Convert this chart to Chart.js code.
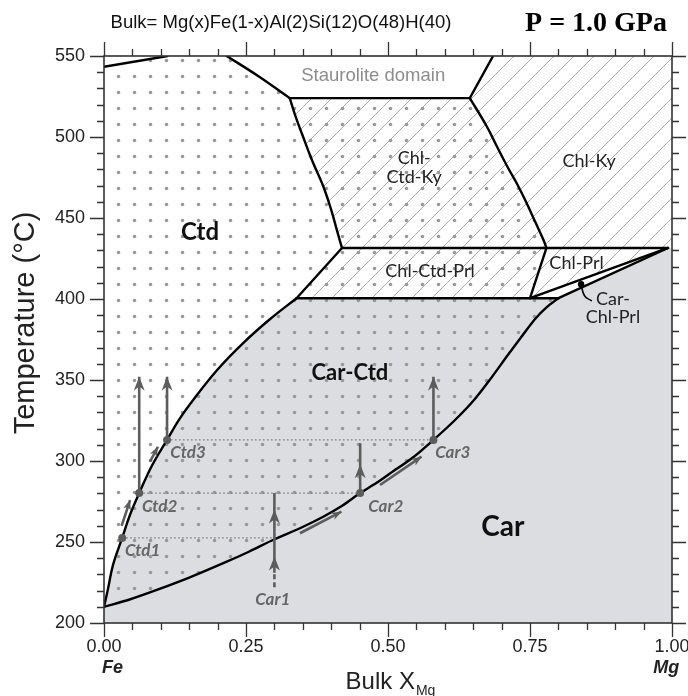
<!DOCTYPE html>
<html>
<head>
<meta charset="utf-8">
<script src="https://cdn.jsdelivr.net/npm/chart.js@4.4.1/dist/chart.umd.min.js"></script>
<style>
  html, body { margin: 0; padding: 0; background: #fff; }
</style>
</head>
<body>
<canvas id="myChart" width="688" height="696"></canvas>
<script>
'use strict';

// axes
let xMajorTicks = [0, 0.25, 0.5, 0.75, 1];
let xTickLabels = ['0.00', '0.25', '0.50', '0.75', '1.00'];
let yMajorTicks = [200, 250, 300, 350, 400, 450, 500, 550];
let yTickLabels = ['200', '250', '300', '350', '400', '450', '500', '550'];

// phase boundaries (bulk XMg, T in C)
let topLeft = [[0, 543.4], [0.112, 550]];
let stauLeft = [[0.216, 550], [0.272, 537.5], [0.327, 524]];
let stauBottom = [[0.327, 524], [0.644, 524]];
let stauRight = [[0.644, 524], [0.685, 550]];
let ctdKy = [[0.327, 524], [0.338, 512], [0.350, 500.6], [0.367, 485], [0.386, 469.6], [0.400, 455], [0.412, 440], [0.419, 431.5]];
let kyRight = [[0.644, 524], [0.674, 506.5], [0.692, 494], [0.710, 481.8], [0.728, 470.5], [0.744, 459.2], [0.760, 447], [0.773, 437], [0.779, 431.5]];
let chlLine = [[0.419, 431.5], [0.993, 431.5]];
let prlLeft = [[0.419, 431.5], [0.339, 400.5]];
let prlBottom = [[0.339, 400.5], [0.80, 400.5]];
let prlMid = [[0.779, 431.5], [0.75, 400.5]];
let wedgeUpper = [[0.75, 400.5], [0.993, 431.5]];
let wedgeLower = [[0.80, 400.5], [0.993, 431.5]];
let ctdCurve = [[0, 210], [0.007, 221], [0.016, 236], [0.032, 252.5], [0.046, 267], [0.062, 280.2], [0.085, 297.5], [0.111, 313],
  [0.133, 326], [0.157, 337.7], [0.200, 356.5], [0.245, 372.8], [0.292, 387.5], [0.339, 400.5]];
let carCurve = [[0, 210], [0.045, 214.5], [0.093, 220.4], [0.15, 228], [0.21, 236.9], [0.255, 244], [0.30, 251.7], [0.345, 258.5], [0.386, 265.6],
  [0.420, 272.5], [0.451, 280.2], [0.480, 286.5], [0.504, 292.4], [0.545, 302.5], [0.580, 313], [0.618, 325.3], [0.653, 338.3],
  [0.683, 351.9], [0.711, 365.4], [0.736, 377.2], [0.759, 387.7], [0.780, 395.1], [0.80, 400.5]];

// path marks
let ctdPoints = [[0.032, 252.5], [0.062, 280.2], [0.111, 313]];
let carPoints = [[0.451, 280.2], [0.580, 313]];
let isoLines = [
  [[0.032, 252.5], [0.30, 252.5]],
  [[0.062, 280.2], [0.451, 280.2]],
  [[0.111, 313], [0.580, 313]]
];
let upArrows = [
  [[0.062, 280.2], [0.062, 352]],
  [[0.111, 313], [0.111, 352]],
  [[0.580, 313], [0.580, 352]],
  [[0.451, 280.2], [0.451, 311]],
  [[0.30, 231], [0.30, 280.2]]
];
let car1Dash = [[0.30, 222], [0.30, 231]];
let midHeads = [
  [[0.30, 232], [0.30, 241]],
  [[0.30, 262], [0.30, 270]],
  [[0.451, 288], [0.451, 298]]
];
let sideArrows = [
  [[0.031, 259.9], [0.046, 275.9]],
  [[0.081, 299.6], [0.095, 308.8]],
  [[0.345, 255.4], [0.418, 268.7]],
  [[0.486, 285.2], [0.559, 302.7]]
];
let wedgeDot = [[0.840, 409.1]];
let wedgeLeader = [[0.840, 409.1], [0.846, 402], [0.858, 399]];

// region labels
let fieldLabels = [
  {text: 'Staurolite domain', x: 0.474, y: 537.7, font: '18.5px "Liberation Sans"', color: '#8c8c8c'},
  {text: 'Ctd', x: 0.169, y: 441.5, font: 'bold 24px Lato', color: '#111'},
  {text: 'Car-Ctd', x: 0.433, y: 354.5, font: 'bold 22px Lato', color: '#111'},
  {text: 'Car', x: 0.702, y: 259.5, font: 'bold 28px Lato', color: '#111'},
  {text: 'Chl-', x: 0.546, y: 486.9, font: '18px Lato', color: '#222'},
  {text: 'Ctd-Ky', x: 0.546, y: 475.5, font: '18px Lato', color: '#222'},
  {text: 'Chl-Ky', x: 0.854, y: 484.8, font: '18px Lato', color: '#222'},
  {text: 'Chl-Ctd-Prl', x: 0.574, y: 416.9, font: '18px Lato', color: '#222'},
  {text: 'Chl-Prl', x: 0.832, y: 422.4, font: '18px Lato', color: '#222'},
  {text: 'Car-', x: 0.896, y: 400, font: '18px Lato', color: '#222'},
  {text: 'Chl-Prl', x: 0.896, y: 388.5, font: '18px Lato', color: '#222'}
];
let pathLabels = [
  {text: 'Ctd1', x: 0.068, y: 245},
  {text: 'Ctd2', x: 0.098, y: 271.8},
  {text: 'Ctd3', x: 0.148, y: 305.1},
  {text: 'Car1', x: 0.297, y: 214.8},
  {text: 'Car2', x: 0.496, y: 272.2},
  {text: 'Car3', x: 0.614, y: 305.1}
];

let titleText = 'Bulk= Mg(x)Fe(1-x)Al(2)Si(12)O(48)H(40)';
let pressureText = 'P = 1.0 GPa';

function pts(arr) {
  return arr.map(function (p) { return {x: p[0], y: p[1]}; });
}

function rev(arr) {
  return arr.slice().reverse();
}

let canvas = document.getElementById('myChart');
let ctx = canvas.getContext('2d');

function dotPattern() {
  let c = document.createElement('canvas');
  c.width = 16;
  c.height = 16;
  let g = c.getContext('2d');
  g.fillStyle = '#989898';
  g.beginPath();
  g.arc(6.5, 12.5, 1.8, 0, Math.PI * 2);
  g.fill();
  return ctx.createPattern(c, 'repeat');
}

function hatchPattern() {
  let c = document.createElement('canvas');
  c.width = 20;
  c.height = 20;
  let g = c.getContext('2d');
  g.strokeStyle = '#939393';
  g.lineWidth = 0.8;
  g.beginPath();
  g.moveTo(-2, 12); g.lineTo(12, -2);
  g.moveTo(8, 22); g.lineTo(22, 8);
  g.stroke();
  return ctx.createPattern(c, 'repeat');
}

// regions built from the boundaries
let grayArea = [].concat(ctdCurve, prlBottom.slice(1), wedgeLower.slice(1), [[1, 431.5], [1, 200], [0, 200], [0, 210]]);
let hatchArea = [].concat(stauBottom, stauRight.slice(1), [[1, 550], [1, 431.5]], rev(wedgeUpper),
  [[0.339, 400.5]], [[0.419, 431.5]], rev(ctdKy).slice(1));
let dotArea = [].concat(carCurve, [[0.75, 400.5]], rev(prlMid).slice(1), rev(kyRight).slice(1),
  [[0.327, 524]], rev(stauLeft).slice(1), rev(topLeft), [[0, 210]]);

function areaSet(arr, color, order) {
  return {
    data: pts(arr), borderWidth: 0, pointRadius: 0, fill: 'shape',
    backgroundColor: color, order: order, tension: 0
  };
}

function lineSet(arr, color, width, order, extra) {
  let ds = {
    data: pts(arr), borderColor: color, borderWidth: width, pointRadius: 0,
    fill: false, order: order, tension: 0, borderCapStyle: 'round', borderJoinStyle: 'round'
  };
  return Object.assign(ds, extra || {});
}

let datasets = [
  areaSet(grayArea, '#dcdde0', 100),
  areaSet(hatchArea, hatchPattern(), 99),
  areaSet(dotArea, dotPattern(), 98)
];

[topLeft, stauBottom, stauRight, chlLine, prlLeft, prlBottom, prlMid, wedgeUpper, wedgeLower].forEach(function (b) {
  datasets.push(lineSet(b, '#000', 2.4, 50));
});
[stauLeft, ctdKy, kyRight, ctdCurve].forEach(function (b) {
  datasets.push(lineSet(b, '#000', 2.4, 50, {tension: 0.4}));
});
datasets.push(lineSet(carCurve, '#000', 2.4, 50, {tension: 0.3}));

isoLines.forEach(function (l) {
  datasets.push(lineSet(l, '#777', 1.3, 40, {borderDash: [1.5, 2.5], borderCapStyle: 'butt'}));
});
upArrows.forEach(function (l) {
  datasets.push(lineSet(l, '#5c5c5c', 2.6, 30, {borderCapStyle: 'butt'}));
});
datasets.push(lineSet(car1Dash, '#5c5c5c', 2.6, 30, {borderDash: [5, 3], borderCapStyle: 'butt'}));
sideArrows.forEach(function (l) {
  datasets.push(lineSet(l, '#5c5c5c', 2.6, 30, {borderCapStyle: 'butt'}));
});
datasets.push(lineSet(wedgeLeader, '#000', 1.6, 20, {tension: 0.5}));
datasets.push({
  data: pts(ctdPoints).concat(pts(carPoints)), showLine: false, pointRadius: 4,
  pointBackgroundColor: '#5c5c5c', pointBorderWidth: 0, order: 10
});
datasets.push({
  data: pts(wedgeDot), showLine: false, pointRadius: 3.2,
  pointBackgroundColor: '#000', pointBorderWidth: 0, order: 10
});

function drawHead(c, xs, ys, from, to, len, half) {
  let x0 = xs.getPixelForValue(from[0]);
  let y0 = ys.getPixelForValue(from[1]);
  let x1 = xs.getPixelForValue(to[0]);
  let y1 = ys.getPixelForValue(to[1]);
  let a = Math.atan2(y1 - y0, x1 - x0);
  c.beginPath();
  c.moveTo(x1, y1);
  c.lineTo(x1 - len * Math.cos(a) + half * Math.sin(a), y1 - len * Math.sin(a) - half * Math.cos(a));
  c.lineTo(x1 - len * 0.7 * Math.cos(a), y1 - len * 0.7 * Math.sin(a));
  c.lineTo(x1 - len * Math.cos(a) - half * Math.sin(a), y1 - len * Math.sin(a) + half * Math.cos(a));
  c.closePath();
  c.fill();
}

let decorPlugin = {
  id: 'decor',
  afterDatasetsDraw: function (chart) {
    let c = chart.ctx;
    let xs = chart.scales.x;
    let ys = chart.scales.y;
    let area = chart.chartArea;
    c.save();

    // arrow heads
    c.fillStyle = '#5c5c5c';
    upArrows.forEach(function (l) {
      if (l[1][1] > 340) drawHead(c, xs, ys, l[0], l[1], 14, 5.5);
    });
    midHeads.forEach(function (l) { drawHead(c, xs, ys, l[0], l[1], 14, 5.5); });
    sideArrows.forEach(function (l) { drawHead(c, xs, ys, l[0], l[1], 10, 4); });

    // frame
    c.strokeStyle = '#333';
    c.lineWidth = 1.6;
    c.strokeRect(area.left, area.top, area.right - area.left, area.bottom - area.top);

    // ticks
    c.lineWidth = 1.3;
    c.beginPath();
    for (let v = 0; v <= 1.0001; v += 0.05) {
      let px = Math.round(xs.getPixelForValue(v)) + 0.5;
      let major = Math.abs(v * 4 - Math.round(v * 4)) < 0.001;
      let len = major ? 14 : 7;
      c.moveTo(px, area.bottom); c.lineTo(px, area.bottom + len);
      c.moveTo(px, area.top); c.lineTo(px, area.top - len);
    }
    for (let t = 200; t <= 550; t += 10) {
      let py = Math.round(ys.getPixelForValue(t)) + 0.5;
      let len = t % 50 === 0 ? 14 : 7;
      c.moveTo(area.left, py); c.lineTo(area.left - len, py);
      c.moveTo(area.right, py); c.lineTo(area.right + len, py);
    }
    c.stroke();

    // tick labels
    c.fillStyle = '#222';
    c.font = '18px "Liberation Sans"';
    c.textAlign = 'right';
    c.textBaseline = 'middle';
    yMajorTicks.forEach(function (t, i) {
      c.fillText(yTickLabels[i], area.left - 19, ys.getPixelForValue(t));
    });
    c.textAlign = 'center';
    c.textBaseline = 'top';
    xMajorTicks.forEach(function (v, i) {
      c.fillText(xTickLabels[i], xs.getPixelForValue(v), area.bottom + 15);
    });

    // corner labels
    c.font = 'italic bold 18px "Liberation Sans"';
    c.fillText('Fe', xs.getPixelForValue(0.015), area.bottom + 36);
    c.fillText('Mg', xs.getPixelForValue(0.99), area.bottom + 36);

    // axis titles
    c.font = '24px "Liberation Sans"';
    c.textAlign = 'left';
    c.textBaseline = 'alphabetic';
    let bw = c.measureText('Bulk X').width;
    c.font = '14px "Liberation Sans"';
    let sw = c.measureText('Mg').width;
    let bx = (area.left + area.right) / 2 - (bw + sw) / 2 + 2;
    c.font = '24px "Liberation Sans"';
    c.fillText('Bulk X', bx, 689);
    c.font = '14px "Liberation Sans"';
    c.fillText('Mg', bx + bw + 1, 695);

    c.save();
    c.translate(34, 323);
    c.rotate(-Math.PI / 2);
    c.font = '29px "Liberation Sans"';
    c.textAlign = 'center';
    c.fillText('Temperature (\u00B0C)', 0, 0);
    c.restore();

    // title
    c.font = '18.5px "Liberation Sans"';
    c.textAlign = 'center';
    c.fillStyle = '#111';
    c.fillText(titleText, 281, 28);
    c.font = 'bold 28px "Liberation Serif"';
    c.fillStyle = '#000';
    c.fillText(pressureText, 596, 31);

    // field labels
    c.textBaseline = 'middle';
    fieldLabels.forEach(function (l) {
      c.font = l.font;
      c.fillStyle = l.color;
      c.fillText(l.text, xs.getPixelForValue(l.x), ys.getPixelForValue(l.y));
    });
    c.font = 'italic bold 17px Lato';
    c.fillStyle = '#666';
    pathLabels.forEach(function (l) {
      c.fillText(l.text, xs.getPixelForValue(l.x), ys.getPixelForValue(l.y));
    });
    c.restore();
  }
};

let myChart = new Chart(ctx, {
  type: 'line',
  data: {datasets: datasets},
  options: {
    responsive: false,
    animation: false,
    devicePixelRatio: 1,
    layout: {padding: {left: 104, right: 16, top: 56, bottom: 73}},
    scales: {
      x: {type: 'linear', min: 0, max: 1, display: false},
      y: {type: 'linear', min: 200, max: 550, display: false}
    },
    plugins: {
      legend: {display: false},
      tooltip: {enabled: false}
    }
  },
  plugins: [decorPlugin]
});
</script>
</body>
</html>
